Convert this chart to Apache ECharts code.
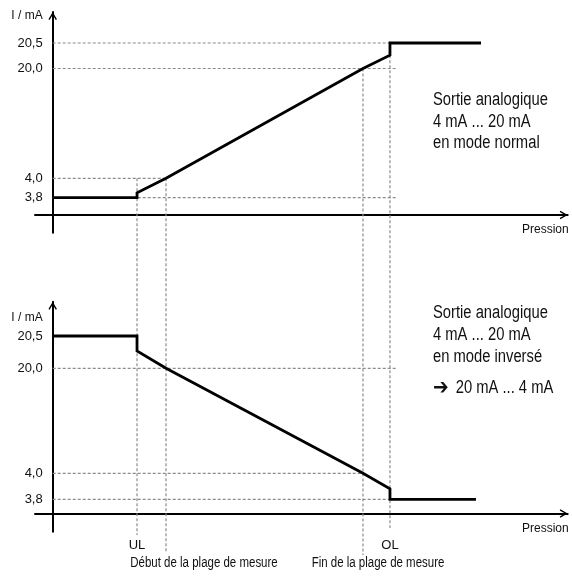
<!DOCTYPE html>
<html><head><meta charset="utf-8">
<script src="https://cdn.jsdelivr.net/npm/echarts@6/dist/echarts.min.js"></script>
<style>html,body{margin:0;padding:0;background:#fff}#c{width:572px;height:576px}</style>
</head><body><div id="c"></div>
<script>
// ---------------- Data ----------------
// current levels shown on the vertical axes (mA) and their tick labels
const levelsMA = [3.8, 4.0, 20.0, 20.5];
const levelLabels = ['3,8', '4,0', '20,0', '20,5'];
// schematic (non-proportional) current scale of each panel:
// drawing height of each level above the pressure axis
const topScale = [17.3, 36.7, 146.5, 172];
const bottomScale = [14.2, 40.2, 145.2, 177.5];

// pressure marks (schematic pressure units)
const pressureNames = ['UL', 'Début', 'Fin', 'OL'];
const pressureValues = [25, 33.6, 92, 100];

// normal mode: pressure / current (mA)
const normalP = [0, 25, 25, 33.6, 92, 100, 100, 127];
const normalI = [3.8, 3.8, 3.85, 4.0, 20.0, 20.26, 20.5, 20.5];
// inverted mode: pressure / current (mA)
const invertP = [0, 25, 25, 33.6, 92, 100, 100, 125.5];
const invertI = [20.5, 20.5, 20.27, 20.0, 4.0, 3.88, 3.8, 3.8];

// horizontal guide lines: level (mA) and pressure where they stop
const topGuideLevels = [20.5, 20.0, 4.0, 3.8];
const topGuideEnds = [100, 102, 33.6, 102.3];
const bottomGuideLevels = [20.0, 4.0, 3.8];
const bottomGuideEnds = [102, 92, 100];
// vertical guide lines: current (mA) where they start in the upper panel
const vGuideStartI = [4.0, 4.0, 20.0, 20.26];
// and where they stop below the lower panel (upper-panel drawing units)
const vGuideStop = [-320, -338, -340, -313];

// ---------------- helpers ----------------
function warp(stops, mA) {
  const n = levelsMA.length;
  for (let i = 0; i < n - 1; i++) {
    if (mA <= levelsMA[i + 1] || i === n - 2) {
      const t = (mA - levelsMA[i]) / (levelsMA[i + 1] - levelsMA[i]);
      return stops[i] + t * (stops[i + 1] - stops[i]);
    }
  }
}
function labelFor(stops) {
  return v => {
    let best = 0, bd = Infinity;
    stops.forEach((s, i) => { const d = Math.abs(s - v); if (d < bd) { bd = d; best = i; } });
    return levelLabels[best];
  };
}

const FONT = "'Liberation Sans', Arial, sans-serif";
const NARROW = 0.82; // horizontal compression to mimic the condensed face of the original
const ARROW = 'path://M5,0 L10,8.6 L8.6,9.4 L5,3.2 L1.4,9.4 L0,8.6 Z';
const GUIDE = { color: '#8c8c8c', width: 1.2, type: [3, 2] };

function xAxisDef(gi, withLabels) {
  return {
    type: 'value', gridIndex: gi, min: -5.25, max: 152.7,
    axisLine: { onZero: true, lineStyle: { color: '#000', width: 2 },
      symbol: ['none', ARROW], symbolSize: [10, 8], symbolOffset: [0, -4] },
    axisTick: { show: false }, splitLine: { show: false },
    axisLabel: withLabels ? {
      show: true, customValues: [pressureValues[0], pressureValues[3]],
      formatter: v => (v === pressureValues[0] ? pressureNames[0] : pressureNames[3]),
      margin: 7, fontSize: 13, fontFamily: FONT, color: '#111'
    } : { show: false },
    name: 'Pression', nameLocation: 'end', nameGap: 1,
    nameTextStyle: { fontFamily: FONT, fontSize: 12, color: '#111', align: 'right', verticalAlign: 'top', padding: [9, 0, 0, 0] }
  };
}
function yAxisDef(gi, stops, min, max, nameGap) {
  return {
    type: 'value', gridIndex: gi, min: min, max: max,
    axisLine: { onZero: true, lineStyle: { color: '#000', width: 2 },
      symbol: ['none', ARROW], symbolSize: [10, 8], symbolOffset: [0, -4] },
    axisTick: { show: false }, splitLine: { show: false },
    axisLabel: { show: true, customValues: stops, formatter: labelFor(stops),
      margin: -7.7, fontSize: 13, fontFamily: FONT, color: '#111', padding: [5, 0, 0, 0] },
    name: 'I / mA', nameLocation: 'end', nameGap: nameGap,
    nameTextStyle: { fontFamily: FONT, fontSize: 12, color: '#111', align: 'right', verticalAlign: 'middle', padding: [0, 10, 0, 0] }
  };
}

const series = [];
// horizontal guides
topGuideLevels.forEach((lv, i) => series.push({
  type: 'line', xAxisIndex: 0, yAxisIndex: 0, showSymbol: false, silent: true, z: 1,
  lineStyle: GUIDE, data: [[0, warp(topScale, lv)], [topGuideEnds[i], warp(topScale, lv)]]
}));
bottomGuideLevels.forEach((lv, i) => series.push({
  type: 'line', xAxisIndex: 1, yAxisIndex: 1, showSymbol: false, silent: true, z: 1,
  lineStyle: GUIDE, data: [[0, warp(bottomScale, lv)], [bottomGuideEnds[i], warp(bottomScale, lv)]]
}));
// vertical guides (cross both panels)
pressureValues.forEach((p, i) => series.push({
  type: 'line', xAxisIndex: 0, yAxisIndex: 0, showSymbol: false, silent: true, z: 1, clip: false,
  lineStyle: GUIDE, data: [[p, warp(topScale, vGuideStartI[i])], [p, vGuideStop[i]]]
}));
// curves
series.push({
  type: 'line', xAxisIndex: 0, yAxisIndex: 0, showSymbol: false, z: 5,
  lineStyle: { color: '#000', width: 2.8, join: 'miter', cap: 'butt' },
  data: normalP.map((p, i) => [p, warp(topScale, normalI[i])])
});
series.push({
  type: 'line', xAxisIndex: 1, yAxisIndex: 1, showSymbol: false, z: 5,
  lineStyle: { color: '#000', width: 2.8, join: 'miter', cap: 'butt' },
  data: invertP.map((p, i) => [p, warp(bottomScale, invertI[i])])
});

function txt(text, x, y, size, align, family, sx) {
  return { type: 'text', x: x, y: y, silent: true, scaleX: sx == null ? NARROW : sx,
    style: { text: text, fill: '#111', font: size + 'px ' + (family || FONT), align: align || 'left', verticalAlign: 'middle' } };
}

const option = {
  animation: false,
  backgroundColor: '#fff',
  grid: [
    { left: 35, top: 12, width: 532.7, height: 220.7, containLabel: false, outerBoundsMode: 'none' },
    { left: 35, top: 301.7, width: 532.7, height: 230, containLabel: false, outerBoundsMode: 'none' }
  ],
  xAxis: [xAxisDef(0, false), xAxisDef(1, true)],
  yAxis: [yAxisDef(0, topScale, -17.7, 203, -4), yAxisDef(1, bottomScale, -18.2, 211.8, -16)],
  series: series,
  graphic: [
    txt('Sortie analogique', 433, 100, 18),
    txt('4 mA ... 20 mA', 433, 121.7, 18),
    txt('en mode normal', 433, 143.3, 18),
    txt('Sortie analogique', 433, 313.3, 18),
    txt('4 mA ... 20 mA', 433, 335, 18),
    txt('en mode inversé', 433, 357.3, 18),
    txt('➔', 433, 388.3, 22, 'left', "'DejaVu Sans', sans-serif", 0.85),
    txt('20 mA ... 4 mA', 455.7, 388.3, 18),
    txt('Début de la plage de mesure', 204, 563, 14, 'center'),
    txt('Fin de la plage de mesure', 378, 563, 14, 'center')
  ]
};
echarts.init(document.getElementById('c'), null, { renderer: 'canvas' }).setOption(option);
</script></body></html>
